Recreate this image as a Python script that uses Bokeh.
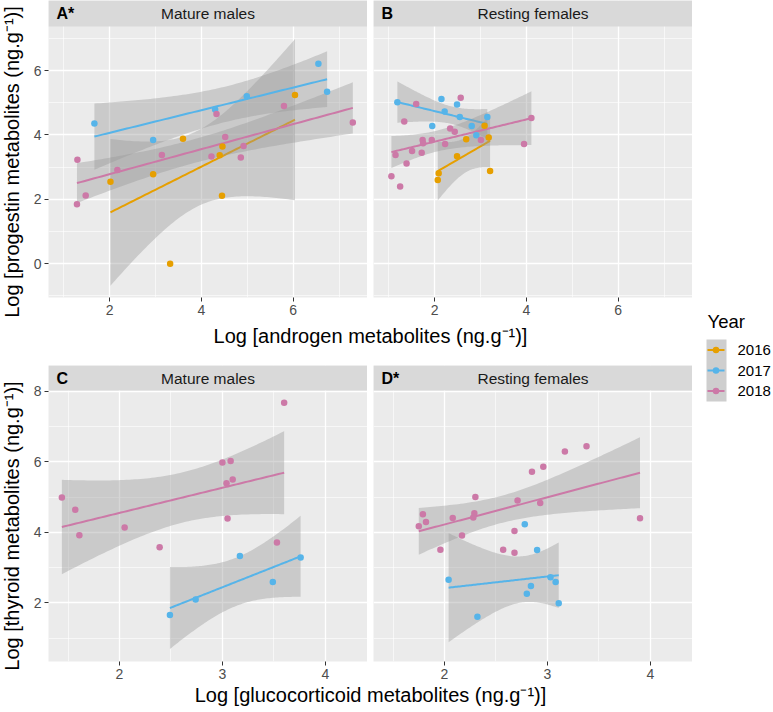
import numpy as np
from bokeh.plotting import figure
from bokeh.layouts import row, column
from bokeh.models import Range1d, FixedTicker, BoxAnnotation, Label
from bokeh.embed import file_html
from bokeh.resources import INLINE

FONT = "Liberation Sans"
YEARS = ["2016", "2017", "2018"]
YEAR_COLORS = ["#E69F00", "#56B4E9", "#CC79A7"]

# ---------------- data ----------------
# Panel A - Mature males: androgen (x) vs progestin (y)
a16_x = [2.02, 2.95, 3.32, 3.60, 4.40, 4.46, 4.45, 6.04]
a16_y = [2.55, 2.78, 0.00, 3.88, 3.37, 3.64, 2.11, 5.24]
a17_x = [1.67, 2.95, 4.30, 4.99, 6.55, 6.74]
a17_y = [4.36, 3.84, 4.79, 5.20, 6.21, 5.34]
a18_x = [1.30, 1.29, 1.48, 2.17, 3.14, 4.22, 4.33, 4.52, 4.86, 4.92, 5.80, 7.30]
a18_y = [3.23, 1.85, 2.12, 2.91, 3.38, 3.33, 4.65, 3.94, 3.30, 3.66, 4.90, 4.39]
# Panel B - Resting females: androgen (x) vs progestin (y)
b16_x = [2.07, 2.09, 2.49, 2.69, 3.09, 3.18, 3.21]
b16_y = [2.60, 2.81, 3.34, 3.87, 4.29, 3.92, 2.88]
b17_x = [1.19, 2.15, 2.49, 2.22, 2.55, 1.95, 2.81, 2.91, 3.15]
b17_y = [5.02, 5.12, 4.95, 4.73, 4.56, 4.28, 4.28, 3.99, 4.56]
b18_x = [1.06, 1.25, 1.15, 1.39, 1.34, 1.51, 1.72, 1.60, 1.74, 1.75, 1.94, 2.23,
         2.34, 2.44, 2.57, 3.01, 3.95, 4.11]
b18_y = [2.72, 2.40, 3.38, 3.11, 4.42, 3.50, 3.45, 4.96, 3.84, 3.74, 3.84, 3.72,
         4.20, 4.10, 5.16, 3.84, 3.72, 4.53]
# Panel C - Mature males: glucocorticoid (x) vs thyroid (y)
c17_x = [2.49, 2.74, 3.17, 3.49, 3.76]
c17_y = [1.66, 2.10, 3.33, 2.59, 3.29]
c18_x = [1.44, 1.57, 1.61, 2.05, 2.39, 3.00, 3.08, 3.04, 3.10, 3.05, 3.60, 3.53]
c18_y = [4.99, 4.64, 3.92, 4.14, 3.58, 5.98, 6.02, 5.39, 5.50, 4.39, 7.67, 3.71]
# Panel D - Resting females: glucocorticoid (x) vs thyroid (y)
d17_x = [2.04, 2.32, 2.78, 2.80, 2.84, 2.90, 3.03, 3.08, 3.11]
d17_y = [2.66, 1.61, 4.23, 2.26, 2.48, 3.50, 2.73, 2.59, 1.99]
d18_x = [1.75, 1.79, 1.82, 1.96, 2.08, 2.17, 2.30, 2.29, 2.28, 2.57, 2.68, 2.68,
         2.71, 2.85, 2.93, 2.96, 3.17, 3.38, 3.90]
d18_y = [4.17, 4.51, 4.29, 3.51, 4.41, 3.91, 5.00, 4.54, 4.42, 3.51, 4.04, 3.42,
         4.90, 5.72, 4.83, 5.86, 6.29, 6.44, 4.40]

# axis limits / breaks
AB_XLIM = (0.67, 7.62)
AB_YLIM = (-1.05, 7.37)
AB_XTICKS, AB_XMINOR = [2, 4, 6], [1, 3, 5, 7]
AB_YTICKS, AB_YMINOR = [0, 2, 4, 6], [-1, 1, 3, 5, 7]
CD_XLIM = (1.31, 4.41)
CD_YLIM = (0.34, 8.02)
CD_XTICKS, CD_XMINOR = [2, 3, 4], [1.5, 2.5, 3.5]
CD_YTICKS, CD_YMINOR = [2, 4, 6, 8], [1, 3, 5, 7]

X_TITLE_TOP = "Log [androgen metabolites (ng.g\u207b\u00b9)]"
X_TITLE_BOTTOM = "Log [glucocorticoid metabolites (ng.g\u207b\u00b9)]"
Y_TITLE_TOP = "Log [progestin metabolites (ng.g\u207b\u00b9)]"
Y_TITLE_BOTTOM = "Log [thyroid metabolites (ng.g\u207b\u00b9)]"

# ---------------- linear model with 95% band (geom_smooth(method="lm")) -------
T975 = {1: 12.706, 2: 4.303, 3: 3.182, 4: 2.776, 5: 2.571, 6: 2.447, 7: 2.365,
        8: 2.306, 9: 2.262, 10: 2.228, 11: 2.201, 12: 2.179, 13: 2.160, 14: 2.145,
        15: 2.131, 16: 2.120, 17: 2.110, 18: 2.101, 19: 2.093, 20: 2.086}


def lm_band(x, y, n=80):
    x = np.asarray(x, float)
    y = np.asarray(y, float)
    mx, my = x.mean(), y.mean()
    sxx = ((x - mx) ** 2).sum()
    b = ((x - mx) * (y - my)).sum() / sxx
    a = my - b * mx
    dof = len(x) - 2
    s = np.sqrt(((y - (a + b * x)) ** 2).sum() / dof)
    xs = np.linspace(x.min(), x.max(), n)
    fit = a + b * xs
    se = s * np.sqrt(1.0 / len(x) + (xs - mx) ** 2 / sxx)
    t = T975[dof]
    return xs, fit, fit - t * se, fit + t * se


def style_axis(ax):
    ax.axis_line_color = None
    ax.major_tick_line_color = "#333333"
    ax.major_tick_line_width = 1
    ax.major_tick_out = 4
    ax.major_tick_in = 0
    ax.minor_tick_line_color = None
    ax.major_label_text_font = FONT
    ax.major_label_text_font_size = "14px"
    ax.major_label_text_color = "#4D4D4D"
    ax.major_label_standoff = 3


def make_panel(xlim, ylim, xt, xm, yt, ym, w, h, bl, bt, bb, strip_px,
               show_y, tag, strip, series):
    lo, hi = ylim
    panel_px = h - bt - bb - strip_px
    top = hi + (hi - lo) * strip_px / panel_px
    p = figure(width=w, height=h, x_range=Range1d(*xlim), y_range=Range1d(lo, top),
               x_axis_location="below", y_axis_location=("left" if show_y else None),
               toolbar_location=None, output_backend="svg",
               min_border_left=bl, min_border_right=0, min_border_top=bt,
               min_border_bottom=bb)
    p.background_fill_color = "#EBEBEB"
    p.border_fill_color = "white"
    p.outline_line_color = None
    p.xaxis.ticker = FixedTicker(ticks=xt)
    for ax in p.xaxis:
        style_axis(ax)
    if show_y:
        p.yaxis.ticker = FixedTicker(ticks=yt)
        for ax in p.yaxis:
            style_axis(ax)
    p.xgrid.ticker = FixedTicker(ticks=xt, minor_ticks=xm)
    p.ygrid.ticker = FixedTicker(ticks=yt, minor_ticks=ym)
    for g in list(p.xgrid) + list(p.ygrid):
        g.grid_line_color = "white"
        g.grid_line_width = 1.3
        g.minor_grid_line_color = "white"
        g.minor_grid_line_width = 0.6

    for yi, x, y in series:
        xs, fit, low, upp = lm_band(x, y)
        p.varea(x=xs, y1=low, y2=upp, fill_color="#999999", fill_alpha=0.4)
        p.line(xs, fit, line_color=YEAR_COLORS[yi], line_width=2)
    for yi, x, y in series:
        p.scatter(x, y, size=6.5, fill_color=YEAR_COLORS[yi], line_color=None)

    # facet strip
    p.add_layout(BoxAnnotation(left=xlim[0], right=xlim[1], bottom=hi, top=top,
                               fill_color="#D9D9D9", fill_alpha=1.0,
                               line_color=None, line_alpha=0))
    mid = (hi + top) / 2
    p.add_layout(Label(x=(xlim[0] + xlim[1]) / 2, y=mid, text=strip,
                       text_align="center", text_baseline="middle",
                       text_font=FONT, text_font_size="15.5px", text_color="#1A1A1A"))
    p.add_layout(Label(x=xlim[0], y=mid, x_offset=8, text=tag,
                       text_align="left", text_baseline="middle",
                       text_font=FONT, text_font_size="16px", text_font_style="bold",
                       text_color="black"))
    return p


def text_fig(w, h):
    f = figure(width=w, height=h, x_range=Range1d(0, w), y_range=Range1d(h, 0),
               x_axis_location=None, y_axis_location=None, toolbar_location=None,
               output_backend="svg", min_border=0)
    f.grid.visible = False
    f.outline_line_color = None
    f.background_fill_color = "white"
    f.border_fill_color = "white"
    return f


# layout sizes (pixels)
YT_W = 28        # column holding the rotated y titles
LEFT_W = 339     # panel A / C canvas (20 px border + 319 px frame)
RIGHT_W = 325    # panel B / D canvas (6 px border + 319 px frame)
LEG_W = 80
TOP_H = 319      # strip 26 + panel 271 + 22 bottom border
BOT_H = 332      # 15 top border + strip 25 + panel 271 + 21 bottom border
TA_H = 31
TB_H = 29
TOTAL_H = TOP_H + TA_H + BOT_H + TB_H

fA = make_panel(AB_XLIM, AB_YLIM, AB_XTICKS, AB_XMINOR, AB_YTICKS, AB_YMINOR,
                LEFT_W, TOP_H, 20, 0, 22, 26, True, "A*", "Mature males",
                [(0, a16_x, a16_y), (1, a17_x, a17_y), (2, a18_x, a18_y)])
fB = make_panel(AB_XLIM, AB_YLIM, AB_XTICKS, AB_XMINOR, AB_YTICKS, AB_YMINOR,
                RIGHT_W, TOP_H, 6, 0, 22, 26, False, "B", "Resting females",
                [(0, b16_x, b16_y), (1, b17_x, b17_y), (2, b18_x, b18_y)])
fC = make_panel(CD_XLIM, CD_YLIM, CD_XTICKS, CD_XMINOR, CD_YTICKS, CD_YMINOR,
                LEFT_W, BOT_H, 20, 15, 21, 25, True, "C", "Mature males",
                [(1, c17_x, c17_y), (2, c18_x, c18_y)])
fD = make_panel(CD_XLIM, CD_YLIM, CD_XTICKS, CD_XMINOR, CD_YTICKS, CD_YMINOR,
                RIGHT_W, BOT_H, 6, 15, 21, 25, False, "D*", "Resting females",
                [(1, d17_x, d17_y), (2, d18_x, d18_y)])

tA = text_fig(LEFT_W + RIGHT_W, TA_H)
tA.add_layout(Label(x=(20 + LEFT_W + RIGHT_W) / 2, y=16.5, text=X_TITLE_TOP,
                    text_align="center", text_baseline="middle", text_font=FONT,
                    text_font_size="20px", text_color="black"))
tB = text_fig(LEFT_W + RIGHT_W, TB_H)
tB.add_layout(Label(x=(20 + LEFT_W + RIGHT_W) / 2, y=12.5, text=X_TITLE_BOTTOM,
                    text_align="center", text_baseline="middle", text_font=FONT,
                    text_font_size="20px", text_color="black"))

yt = text_fig(YT_W, TOTAL_H)
yt.add_layout(Label(x=11, y=161.5, text=Y_TITLE_TOP, angle=np.pi / 2,
                    text_align="center", text_baseline="middle", text_font=FONT,
                    text_font_size="20px", text_color="black"))
yt.add_layout(Label(x=11, y=525.5, text=Y_TITLE_BOTTOM, angle=np.pi / 2,
                    text_align="center", text_baseline="middle", text_font=FONT,
                    text_font_size="20px", text_color="black"))

# legend
leg = text_fig(LEG_W, TOTAL_H)
leg.add_layout(Label(x=15, y=321, text="Year", text_align="left",
                     text_baseline="middle", text_font=FONT, text_font_size="18.5px",
                     text_color="black"))
rows_y = [349.5, 370.0, 390.5]
leg.quad(left=14, right=34, top=339, bottom=401, fill_color="#CECECE", line_color=None)
leg.segment(x0=[15] * 3, y0=rows_y, x1=[32] * 3, y1=rows_y,
            line_color=YEAR_COLORS, line_width=2)
leg.scatter(x=[23.5] * 3, y=rows_y, size=6.5, fill_color=YEAR_COLORS, line_color=None)
for yr, yy in zip(YEARS, rows_y):
    leg.add_layout(Label(x=45, y=yy, text=yr, text_align="left", text_baseline="middle",
                         text_font=FONT, text_font_size="15px", text_color="black"))

p = row(yt, column(row(fA, fB), tA, row(fC, fD), tB), leg)

open("out.html", "w").write(file_html(p, INLINE))
